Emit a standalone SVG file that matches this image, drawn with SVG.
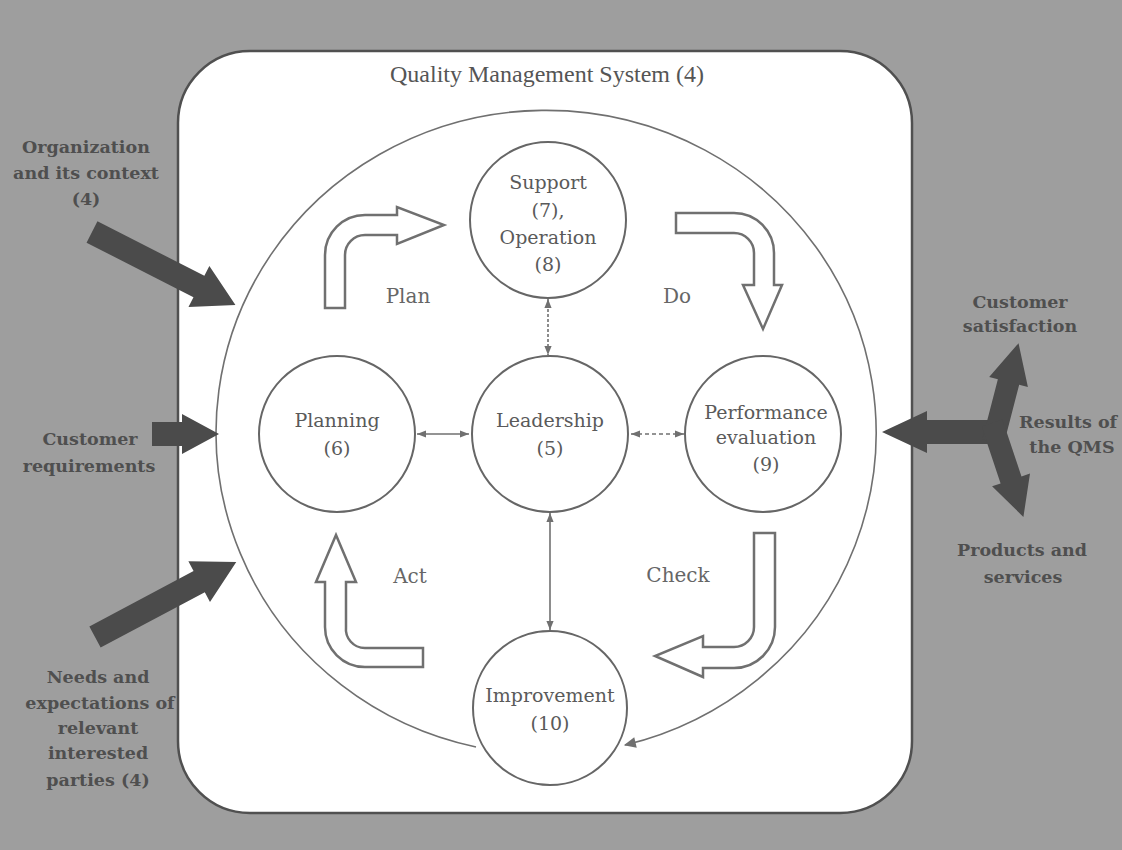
<svg xmlns="http://www.w3.org/2000/svg" width="1122" height="850" viewBox="0 0 1122 850">
<defs>
<style>
.node{fill:#fff;stroke:#666;stroke-width:2}
.ct{font-family:"DejaVu Serif",serif;font-size:19px;fill:#5a5a5a;text-anchor:middle}
.pd{font-family:"DejaVu Serif",serif;font-size:20px;fill:#666;text-anchor:middle}
.ext{font-family:"DejaVu Serif",serif;font-weight:bold;font-size:17.5px;fill:#4f4f4f;text-anchor:middle}
.st{text-anchor:start}
.blk{fill:#fff;stroke:#707070;stroke-width:2.5;stroke-linejoin:miter}
.dark{fill:#4b4b4b}
.con{fill:none;stroke:#707070;stroke-width:1.6}
</style>
<marker id="ah" viewBox="0 0 10 10" refX="10" refY="5" markerWidth="9" markerHeight="9" markerUnits="userSpaceOnUse" orient="auto-start-reverse">
<path d="M0,1 L10,5 L0,9 Z" fill="#707070"/>
</marker>
<marker id="ahb" viewBox="0 0 10 10" refX="9" refY="5" markerWidth="14" markerHeight="12" markerUnits="userSpaceOnUse" orient="auto">
<path d="M0,0.5 L10,5 L0,9.5 Z" fill="#707070"/>
</marker>
</defs>

<rect x="0" y="0" width="1122" height="850" fill="#9e9e9e"/>

<g id="qms">
<rect x="178" y="51" width="734" height="762" rx="72" ry="72" fill="#fff" stroke="#505050" stroke-width="2.5"/>
<text x="547" y="82" font-family="Liberation Serif, serif" font-size="24" fill="#555" text-anchor="middle">Quality Management System (4)</text>
</g>

<g id="connectors">
<path class="con" d="M476,747 A330,322 0 1 1 625,745" marker-end="url(#ahb)"/>
<line class="con" x1="548" y1="299" x2="548" y2="355" stroke-dasharray="3,2" marker-start="url(#ah)" marker-end="url(#ah)"/>
<line class="con" x1="417" y1="434" x2="469" y2="434" marker-start="url(#ah)" marker-end="url(#ah)"/>
<line class="con" x1="631" y1="434" x2="684" y2="434" stroke-dasharray="4,3" marker-start="url(#ah)" marker-end="url(#ah)"/>
<line class="con" x1="550" y1="513" x2="550" y2="630" marker-start="url(#ah)" marker-end="url(#ah)"/>
</g>

<g id="support">
<circle class="node" cx="548" cy="220" r="78"/>
<text class="ct" x="548" y="189">Support</text>
<text class="ct" x="548" y="217">(7),</text>
<text class="ct" x="548" y="244">Operation</text>
<text class="ct" x="548" y="271">(8)</text>
</g>

<g id="leadership">
<circle class="node" cx="550" cy="434" r="78"/>
<text class="ct" x="550" y="427">Leadership</text>
<text class="ct" x="550" y="455">(5)</text>
</g>

<g id="planning">
<circle class="node" cx="337" cy="434" r="78"/>
<text class="ct" x="337" y="427">Planning</text>
<text class="ct" x="337" y="455">(6)</text>
</g>

<g id="performance">
<circle class="node" cx="763" cy="434" r="78"/>
<text class="ct" x="766" y="419">Performance</text>
<text class="ct" x="766" y="444">evaluation</text>
<text class="ct" x="766" y="471">(9)</text>
</g>

<g id="improvement">
<circle class="node" cx="550" cy="708" r="77"/>
<text class="ct" x="550" y="702">Improvement</text>
<text class="ct" x="550" y="730">(10)</text>
</g>

<g id="plan">
<path class="blk" d="M325,308 L325,255 A40,40 0 0 1 365,215 L397,215 L397,207 L444,225 L397,244 L397,235 L365,235 A20,20 0 0 0 345,255 L345,308 Z"/>
<text class="pd" x="408" y="303">Plan</text>
</g>

<g id="do">
<path class="blk" d="M676,213 L734,213 A40,40 0 0 1 774,253 L774,285 L782,285 L763,329 L743,285 L754,285 L754,253 A20,20 0 0 0 734,233 L676,233 Z"/>
<text class="pd" x="677" y="303">Do</text>
</g>

<g id="check">
<path class="blk" d="M754,533 L775,533 L775,627 A41,41 0 0 1 734,668 L703,668 L703,677 L655,656 L703,636 L703,647 L734,647 A20,20 0 0 0 754,627 Z"/>
<text class="pd" x="678" y="582">Check</text>
</g>

<g id="act">
<path class="blk" d="M423,667 L365,667 A40,40 0 0 1 325,627 L325,582 L316,582 L336,535 L356,582 L346,582 L346,627 A19,19 0 0 0 365,648 L423,648 Z"/>
<text class="pd" x="410" y="583">Act</text>
</g>

<g id="organization">
<polygon class="dark" transform="translate(92,232) rotate(27)" points="0,-12 120,-12 120,-23 161,0 120,23 120,12 0,12"/>
<text class="ext" x="86" y="153">Organization</text>
<text class="ext" x="86" y="179">and its context</text>
<text class="ext" x="86" y="205">(4)</text>
</g>

<g id="customer-requirements">
<text class="ext" x="90" y="445">Customer</text>
<text class="ext" x="89" y="472">requirements</text>
<polygon class="dark" transform="translate(152,434)" points="0,-12 30,-12 30,-20 67,0 30,20 30,12 0,12"/>
</g>

<g id="needs">
<polygon class="dark" transform="translate(95,637) rotate(-28)" points="0,-12 118,-12 118,-23 160,0 118,23 118,12 0,12"/>
<text class="ext" x="98" y="683">Needs and</text>
<text class="ext" x="100" y="709">expectations of</text>
<text class="ext" x="98" y="734">relevant</text>
<text class="ext" x="98" y="759">interested</text>
<text class="ext" x="98" y="786">parties (4)</text>
</g>

<g id="results">
<polygon class="dark" transform="translate(1000,432) rotate(180)" points="0,-12 73,-12 73,-21 118,0 73,21 73,12 0,12"/>
<polygon class="dark" transform="translate(993,442) rotate(-75.5)" points="0,-11 62,-11 62,-20 102,0 62,20 62,11 0,11"/>
<polygon class="dark" transform="translate(992,423) rotate(71.5)" points="0,-11 60,-11 60,-20 99,0 60,20 60,11 0,11"/>
<text class="ext" x="1020" y="308">Customer</text>
<text class="ext" x="1020" y="332">satisfaction</text>
<text class="ext st" x="1019" y="428">Results of</text>
<text class="ext" x="1072" y="453">the QMS</text>
<text class="ext" x="1022" y="556">Products and</text>
<text class="ext" x="1023" y="583">services</text>
</g>
</svg>
